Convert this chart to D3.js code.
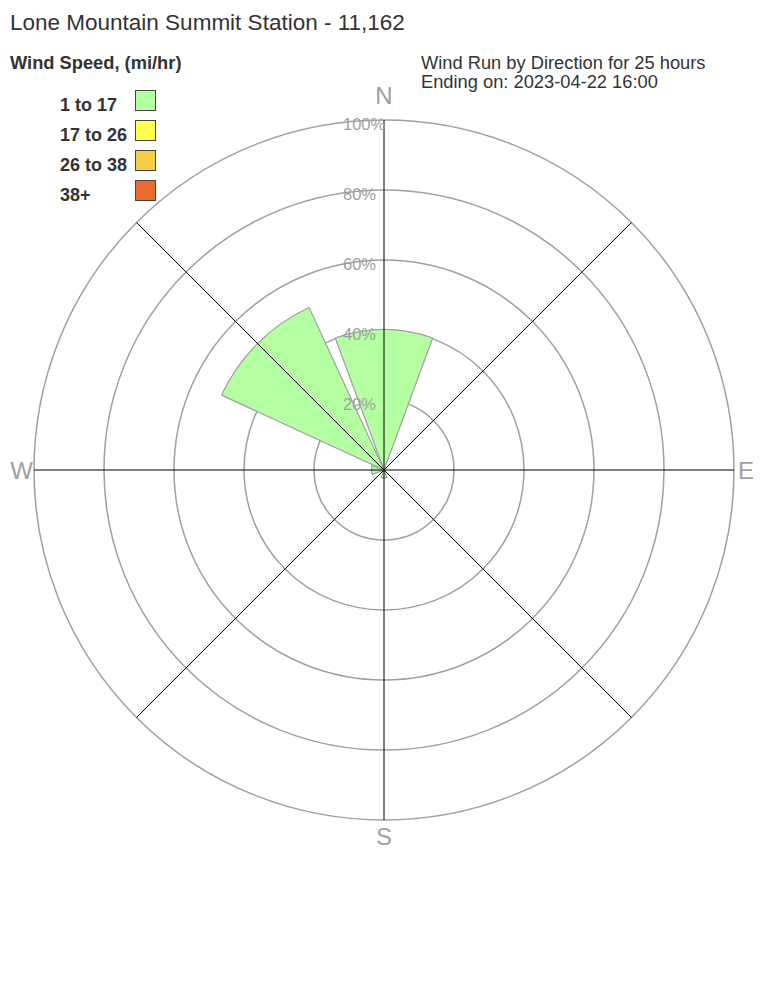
<!DOCTYPE html>
<html>
<head>
<meta charset="utf-8">
<script src="https://cdn.jsdelivr.net/npm/d3@7"></script>
<style>
  html, body { margin: 0; padding: 0; background: #fff; }
  svg { display: block; font-family: "Liberation Sans", Arial, sans-serif; }
</style>
</head>
<body>
<svg id="chart" width="768" height="1008"></svg>
<script>
// ---- data ----
const directions = ["N", "NE", "E", "SE", "S", "SW", "W", "NW"];
const speedBins = ["1 to 17", "17 to 26", "26 to 38", "38+"];
const binColors = ["#b3ffa1", "#ffff4f", "#f7ce45", "#ec6c2e"];
const bin1 = [40.2, 0, 0, 0, 2.3, 0, 3.6, 51.1];
const bin2 = [0, 0, 0, 0, 0, 0, 0, 0];
const bin3 = [0, 0, 0, 0, 0, 0, 0, 0];
const bin4 = [0, 0, 0, 0, 0, 0, 0, 0];
const ringTicks = [20, 40, 60, 80, 100];
const cardinalLabels = ["N", "E", "S", "W"];
const titleText = "Lone Mountain Summit Station - 11,162";
const legendTitle = "Wind Speed, (mi/hr)";
const subtitleLines = ["Wind Run by Direction for 25 hours", "Ending on: 2023-04-22 16:00"];

// ---- setup ----
const svg = d3.select("#chart");
const cx = 384, cy = 470, R = 350;
const g = svg.append("g").attr("transform", `translate(${cx},${cy})`);

const r = d3.scaleLinear().domain([0, 100]).range([0, R]);

// rings
g.selectAll("circle.ring").data(ringTicks).join("circle")
  .attr("class", "ring")
  .attr("r", d => r(d))
  .attr("fill", "none")
  .attr("stroke", "#a0a0a0")
  .attr("stroke-width", 1.5);

// stacked wedges
const table = directions.map((d, i) => ({
  dir: d,
  [speedBins[0]]: bin1[i], [speedBins[1]]: bin2[i],
  [speedBins[2]]: bin3[i], [speedBins[3]]: bin4[i]
}));
const stack = d3.stack().keys(speedBins)(table);
const step = 2 * Math.PI / directions.length;
const halfW = step * 0.9 / 2;
const arc = d3.arc()
  .innerRadius(d => r(d[0]))
  .outerRadius(d => r(d[1]))
  .startAngle(d => directions.indexOf(d.data.dir) * step - halfW)
  .endAngle(d => directions.indexOf(d.data.dir) * step + halfW);

g.selectAll("g.layer").data(stack).join("g")
  .attr("class", "layer")
  .attr("fill", (d, i) => binColors[i])
  .selectAll("path").data(d => d.filter(s => s[1] - s[0] > 0)).join("path")
  .attr("d", arc)
  .attr("stroke", "#a0a0a0")
  .attr("stroke-width", 1.2);

// spokes
g.selectAll("line.spoke").data(directions).join("line")
  .attr("class", "spoke")
  .attr("x1", 0).attr("y1", 0)
  .attr("x2", (d, i) => R * Math.sin(i * step))
  .attr("y2", (d, i) => -R * Math.cos(i * step))
  .attr("stroke", "#000")
  .attr("stroke-width", 1);

// ring labels
g.selectAll("text.ringlabel").data(ringTicks).join("text")
  .attr("class", "ringlabel")
  .attr("x", -41)
  .attr("y", d => -r(d) + 9.5)
  .attr("fill", "#a0a0a0")
  .attr("font-size", 16.5)
  .text(d => d + "%");

// cardinal labels
const cardPos = {
  N: { x: 0, y: -R - 16, anchor: "middle" },
  E: { x: R + 4, y: 8.5, anchor: "start" },
  S: { x: 0, y: R + 25, anchor: "middle" },
  W: { x: -R - 1, y: 8.5, anchor: "end" }
};
g.selectAll("text.card").data(cardinalLabels).join("text")
  .attr("class", "card")
  .attr("x", d => cardPos[d].x)
  .attr("y", d => cardPos[d].y)
  .attr("text-anchor", d => cardPos[d].anchor)
  .attr("fill", "#a0a0a0")
  .attr("font-size", 24)
  .text(d => d);

// title
svg.append("text").attr("x", 10).attr("y", 29.5)
  .attr("font-size", 22.5).attr("fill", "#333").text(titleText);

// subtitle
svg.selectAll("text.sub").data(subtitleLines).join("text")
  .attr("class", "sub")
  .attr("x", 421).attr("y", (d, i) => 69 + i * 19)
  .attr("font-size", 18.3).attr("fill", "#333").text(d => d);

// legend
svg.append("text").attr("x", 10).attr("y", 69)
  .attr("font-size", 18.3).attr("font-weight", "bold").attr("fill", "#333").text(legendTitle);
const leg = svg.selectAll("g.leg").data(speedBins).join("g")
  .attr("class", "leg")
  .attr("transform", (d, i) => `translate(0,${i * 30})`);
leg.append("text").attr("x", 60).attr("y", 111)
  .attr("font-size", 18).attr("font-weight", "bold").attr("fill", "#333").text(d => d);
leg.append("rect").attr("x", 135.5).attr("y", 90.5).attr("width", 20).attr("height", 20)
  .attr("fill", (d, i) => binColors[i]).attr("stroke", "#444").attr("stroke-width", 1);
</script>
</body>
</html>
